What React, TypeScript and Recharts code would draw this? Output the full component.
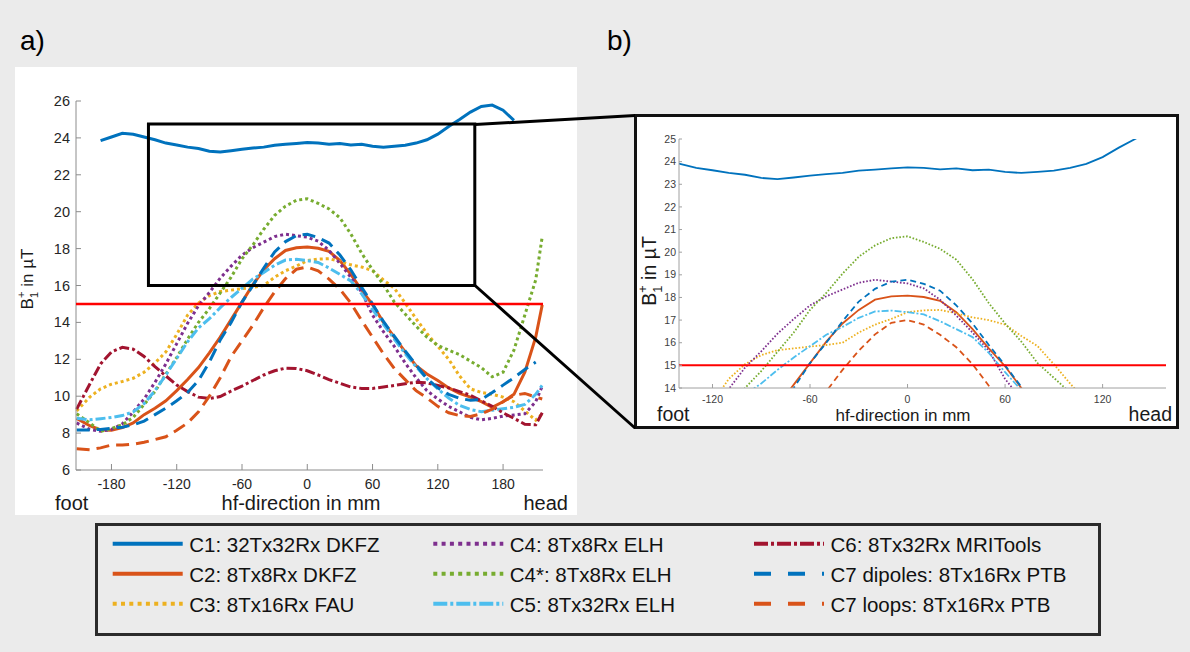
import React from 'react'
import { LineChart, Line, XAxis, YAxis, ReferenceLine, ReferenceArea } from 'recharts'

const FONT = '"Liberation Sans", Arial, Helvetica, sans-serif'
const AXIS_A = '#8c8c8c'
const AXIS_B = '#a0a0a0'

// hf-direction positions in mm
const positions = [
  -212, -200, -190, -180, -170, -160, -150, -140, -130, -120, -110,
  -100, -90, -80, -70, -60, -50, -40, -30, -20, -10, 0,
  10, 20, 30, 40, 50, 60, 70, 80, 90, 100, 110,
  120, 130, 140, 150, 160, 170, 180, 190, 200, 210, 216,
]

// B1+ in µT per coil
const c1 = [
  null, null, 23.85, 24.05, 24.25, 24.2, 24.05, 23.9, 23.72, 23.62, 23.5,
  23.42, 23.28, 23.23, 23.3, 23.38, 23.45, 23.5, 23.6, 23.65, 23.7, 23.75,
  23.72, 23.66, 23.7, 23.62, 23.65, 23.55, 23.5, 23.55, 23.6, 23.72, 23.9,
  24.2, 24.62, 25.0, 25.4, 25.7, 25.78, 25.5, 24.95, null, null, null,
]
const c2 = [
  8.8, 8.4, 8.17, 8.15, 8.3, 8.55, 9.0, 9.35, 9.75, 10.3, 10.9,
  11.55, 12.35, 13.2, 14.15, 15.1, 16.05, 16.85, 17.45, 17.9, 18.05, 18.08,
  18.02, 17.85, 17.35, 16.6, 15.75, 14.96, 14.0, 13.2, 12.4, 11.65, 11.2,
  10.85, 10.45, 10.15, 9.95, 9.7, 9.4, 9.7, 10.1, 11.3, 13.2, 14.95,
]
const c3 = [
  9.2, 9.95, 10.4, 10.65, 10.8, 10.97, 11.3, 11.8, 12.4, 13.35, 14.4,
  15.05, 15.45, 15.67, 15.75, 15.83, 15.9, 16.0, 16.45, 16.8, 17.05, 17.35,
  17.43, 17.45, 17.3, 17.12, 17.0, 16.8, 16.3, 15.85, 15.05, 14.2, 13.4,
  12.7, 12.0, 11.1, 10.4, 10.2, 10.1, 9.95, 9.7, 9.2, 8.7, 9.05,
]
const c4 = [
  8.55, 8.2, 8.1, 8.2, 8.5, 9.15, 9.85, 10.75, 11.75, 12.85, 13.95,
  14.9, 15.62, 16.4, 17.05, 17.65, 18.05, 18.35, 18.65, 18.78, 18.7, 18.62,
  18.4, 17.9, 17.2, 16.45, 15.65, 14.4, 13.5, 12.7, 11.8, 11.0, 10.3,
  9.85, 9.45, 9.15, 8.85, 8.72, 8.8, 8.92, 8.98, 9.05, 9.7, 10.55,
]
const c4s = [
  9.05, 8.55, 8.1, 8.25, 8.45, 8.85, 9.55, 10.25, 11.2, 12.1, 13.1,
  14.0, 14.75, 15.6, 16.45, 17.45, 18.2, 19.05, 19.8, 20.3, 20.62, 20.7,
  20.45, 20.15, 19.67, 18.8, 17.75, 16.85, 16.05, 15.1, 14.45, 13.8, 13.2,
  12.75, 12.5, 12.25, 11.9, 11.55, 11.05, 11.3, 12.5, 14.4, 16.3, 18.65,
]
const c5 = [
  8.8, 8.72, 8.78, 8.85, 8.95, 9.15, 9.6, 10.3, 11.15, 12.05, 12.95,
  13.7, 14.2, 14.8, 15.35, 15.85, 16.35, 16.7, 17.1, 17.38, 17.42, 17.35,
  17.25, 16.95, 16.6, 16.25, 15.55, 14.7, 13.9, 13.1, 12.3, 11.6, 10.95,
  10.4, 9.9, 9.5, 9.28, 9.16, 9.24, 9.32, 9.4, 9.55, 10.1, 10.6,
]
const c6 = [
  9.3, 10.65, 11.75, 12.4, 12.65, 12.55, 12.15, 11.6, 11.1, 10.6, 10.25,
  9.95, 9.88, 9.98, 10.28, 10.55, 10.85, 11.15, 11.38, 11.52, 11.5, 11.38,
  11.15, 10.9, 10.7, 10.5, 10.42, 10.42, 10.5, 10.58, 10.68, 10.75, 10.72,
  10.58, 10.45, 10.25, 10.05, 9.75, 9.45, 9.1, 8.8, 8.48, 8.45, 9.1,
]
const c7d = [
  8.17, 8.17, 8.2, 8.26, 8.32, 8.45, 8.65, 9.0, 9.35, 9.75, 10.2,
  10.85, 11.85, 13.05, 14.0, 15.1, 16.0, 16.95, 17.82, 18.38, 18.7, 18.78,
  18.6, 18.3, 17.65, 16.85, 15.9, 15.0, 14.05, 13.25, 12.45, 11.7, 10.95,
  10.45, 10.1, 9.88, 9.78, 9.82, 10.2, 10.6, 11.0, 11.45, 11.85, null,
]
const c7l = [
  7.15, 7.1, 7.2, 7.35, 7.35, 7.4, 7.5, 7.65, 7.8, 8.15, 8.55,
  9.15, 10.0, 11.0, 12.15, 13.0, 13.85, 14.8, 15.65, 16.37, 16.88, 17.0,
  16.8, 16.35, 15.8, 15.05, 14.1, 13.2, 12.3, 11.5, 10.9, 10.3, 9.9,
  9.45, 9.1, 8.95, 8.9, 9.05, 9.3, 9.7, 10.05, 10.15, 9.95, 9.85,
]

const xTicksA = [-180, -120, -60, 0, 60, 120, 180]
const yTicksA = [6, 8, 10, 12, 14, 16, 18, 20, 22, 24, 26]
const xTicksB = [-120, -60, 0, 60, 120]
const yTicksB = [14, 15, 16, 17, 18, 19, 20, 21, 22, 23, 24, 25]
const threshold = 15
const zoomBox = { x1: -146, x2: 154, y1: 16, y2: 24.75 }

type LineStyle = 'solid' | 'dotted' | 'dashdot' | 'dashed'

const series: { key: string; name: string; values: (number | null)[]; color: string; style: LineStyle }[] = [
  { key: 'c1', name: 'C1: 32Tx32Rx DKFZ', values: c1, color: '#0072BD', style: 'solid' },
  { key: 'c2', name: 'C2: 8Tx8Rx DKFZ', values: c2, color: '#D95319', style: 'solid' },
  { key: 'c3', name: 'C3: 8Tx16Rx FAU', values: c3, color: '#EDB120', style: 'dotted' },
  { key: 'c4', name: 'C4: 8Tx8Rx ELH', values: c4, color: '#7E2F8E', style: 'dotted' },
  { key: 'c4s', name: 'C4*: 8Tx8Rx ELH', values: c4s, color: '#77AC30', style: 'dotted' },
  { key: 'c5', name: 'C5: 8Tx32Rx ELH', values: c5, color: '#4DBEEE', style: 'dashdot' },
  { key: 'c6', name: 'C6: 8Tx32Rx MRITools', values: c6, color: '#A2142F', style: 'dashdot' },
  { key: 'c7d', name: 'C7 dipoles: 8Tx16Rx PTB', values: c7d, color: '#0072BD', style: 'dashed' },
  { key: 'c7l', name: 'C7 loops: 8Tx16Rx PTB', values: c7l, color: '#D95319', style: 'dashed' },
]

const dashA: Record<LineStyle, string | undefined> = { solid: undefined, dotted: '3 3', dashdot: '10 3 3 3', dashed: '13 7' }
const dashB: Record<LineStyle, string | undefined> = { solid: undefined, dotted: '1.6 1.8', dashdot: '7 2 2 2', dashed: '6 4' }
const dashLegend: Record<LineStyle, string | undefined> = { solid: undefined, dotted: '4 4.3', dashdot: '14 3 3 3', dashed: '17 17' }

const data = positions.map((x, i) => {
  const row: Record<string, number | null> = { x }
  series.forEach((s) => (row[s.key] = s.values[i]))
  return row
})

function yTick(len: number, gap: number, size: number, color: string, axis: string) {
  return (props: any) => {
    const { x, y, payload } = props
    return (
      <g>
        <line x1={x} x2={x + len} y1={y} y2={y} stroke={axis} />
        <text x={x - gap} y={y} dy="0.35em" textAnchor="end" fontSize={size} fill={color} fontFamily={FONT}>
          {payload.value}
        </text>
      </g>
    )
  }
}

function xTick(len: number, gap: number, size: number, color: string, axis: string) {
  return (props: any) => {
    const { x, y, payload } = props
    return (
      <g>
        <line x1={x} x2={x} y1={y} y2={y - len} stroke={axis} />
        <text x={x} y={y + gap} dy="0.35em" textAnchor="middle" fontSize={size} fill={color} fontFamily={FONT}>
          {payload.value}
        </text>
      </g>
    )
  }
}

function B1Title({ x, y, size, gap }: { x: number; y: number; size: number; gap: string }) {
  const small = size * 0.65
  return (
    <text transform={`translate(${x},${y}) rotate(-90)`} textAnchor="middle" fontSize={size} fill="#1a1a1a" fontFamily={FONT}>
      B
      <tspan dy={size * 0.3} fontSize={small}>1</tspan>
      <tspan dx={-small * 0.55} dy={-size * 0.75} fontSize={small}>+</tspan>
      <tspan dy={size * 0.45}>{gap}in µT</tspan>
    </text>
  )
}

function PanelA() {
  return (
    <LineChart width={562} height={448} data={data} margin={{ top: 34, right: 34, left: 0, bottom: 0 }}>
      <XAxis
        dataKey="x"
        type="number"
        domain={[-212.6, 216.7]}
        ticks={xTicksA}
        interval={0}
        tickSize={0}
        tickMargin={0}
        tickLine={false}
        height={45}
        stroke={AXIS_A}
        tick={xTick(6, 14, 14, '#262626', AXIS_A)}
        label={{
          content: () => (
            <g fontFamily={FONT} fill="#1a1a1a" fontSize={20}>
              <text x={40} y={443}>foot</text>
              <text x={286} y={443} textAnchor="middle">hf-direction in mm</text>
              <text x={553} y={443} textAnchor="end">head</text>
            </g>
          ),
        }}
      />
      <YAxis
        type="number"
        domain={[6, 26]}
        ticks={yTicksA}
        interval={0}
        tickSize={0}
        tickMargin={0}
        tickLine={false}
        width={61}
        stroke={AXIS_A}
        tick={yTick(5, 6, 14.5, '#262626', AXIS_A)}
        label={{ content: () => <B1Title x={18} y={212} size={17} gap=" " /> }}
      />
      {series.map((s) => (
        <Line
          key={s.key}
          dataKey={s.key}
          type="linear"
          stroke={s.color}
          strokeWidth={3}
          strokeDasharray={dashA[s.style]}
          dot={false}
          activeDot={false}
          connectNulls={false}
          isAnimationActive={false}
        />
      ))}
      <ReferenceLine y={threshold} stroke="#ff0000" strokeWidth={2.5} zIndex={1500} />
      <ReferenceArea
        x1={zoomBox.x1}
        x2={zoomBox.x2}
        y1={zoomBox.y1}
        y2={zoomBox.y2}
        fill="none"
        stroke="#000"
        strokeWidth={3}
        zIndex={1600}
      />
    </LineChart>
  )
}

function PanelB() {
  return (
    <LineChart width={539} height={309} data={data} margin={{ top: 22, right: 10, left: 0, bottom: 0 }}>
      <XAxis
        dataKey="x"
        type="number"
        domain={[-140.6, 159]}
        allowDataOverflow
        ticks={xTicksB}
        interval={0}
        tickSize={0}
        tickMargin={0}
        tickLine={false}
        height={38}
        stroke={AXIS_B}
        tick={xTick(4, 11, 10.5, '#404040', AXIS_B)}
        label={{
          content: () => (
            <g fontFamily={FONT} fill="#1a1a1a">
              <text x={20} y={304} fontSize={19.5}>foot</text>
              <text x={266} y={304} fontSize={17} textAnchor="middle">hf-direction in mm</text>
              <text x={535} y={304} fontSize={19.5} textAnchor="end">head</text>
            </g>
          ),
        }}
      />
      <YAxis
        type="number"
        domain={[14, 25]}
        allowDataOverflow
        ticks={yTicksB}
        interval={0}
        tickSize={0}
        tickMargin={0}
        tickLine={false}
        width={42}
        stroke={AXIS_B}
        tick={yTick(3, 3, 10.5, '#404040', AXIS_B)}
        label={{ content: () => <B1Title x={19} y={154} size={19.5} gap="  " /> }}
      />
      {series.map((s) => (
        <Line
          key={s.key}
          dataKey={s.key}
          type="linear"
          stroke={s.color}
          strokeWidth={1.8}
          strokeDasharray={dashB[s.style]}
          dot={false}
          activeDot={false}
          connectNulls={false}
          isAnimationActive={false}
        />
      ))}
      <ReferenceLine y={threshold} stroke="#ff0000" strokeWidth={2} zIndex={1500} />
    </LineChart>
  )
}

export default function App() {
  const colX = [112.7, 433.3, 754]
  const rowY = [551.7, 581.7, 611.7]
  return (
    <div
      style={{
        position: 'absolute',
        left: 0,
        top: 0,
        width: 1190,
        height: 652,
        background: '#ebebeb',
        fontFamily: FONT,
        overflow: 'hidden',
      }}
    >
      <div style={{ position: 'absolute', left: 15, top: 67, width: 562, height: 448, background: '#fff' }}>
        <PanelA />
      </div>
      <div
        style={{
          position: 'absolute',
          left: 634,
          top: 114,
          width: 545,
          height: 315,
          boxSizing: 'border-box',
          border: '3px solid #111',
          background: '#fff',
        }}
      >
        <PanelB />
      </div>
      <svg width={1190} height={652} style={{ position: 'absolute', left: 0, top: 0, pointerEvents: 'none' }}>
        <text x={20} y={50} fontSize={28} fill="#000" fontFamily={FONT}>a)</text>
        <text x={607} y={50} fontSize={28} fill="#000" fontFamily={FONT}>b)</text>
        {/* connectors from the zoom box to panel b */}
        <line x1={475} y1={124.5} x2={635} y2={115.5} stroke="#000" strokeWidth={3} />
        <line x1={475} y1={285.5} x2={635} y2={428} stroke="#000" strokeWidth={3} />
        {/* legend */}
        <rect x={96.5} y={524.5} width={1003} height={110} fill="none" stroke="#2b2b2b" strokeWidth={3} />
        {series.map((s, i) => {
          const cx = colX[Math.floor(i / 3)]
          const by = rowY[i % 3]
          return (
            <g key={s.key}>
              <line
                x1={cx}
                x2={cx + 70}
                y1={by - 8}
                y2={by - 8}
                stroke={s.color}
                strokeWidth={4}
                strokeDasharray={dashLegend[s.style]}
              />
              <text x={cx + 76.5} y={by} fontSize={20.5} fill="#111" fontFamily={FONT}>
                {s.name}
              </text>
            </g>
          )
        })}
      </svg>
    </div>
  )
}
